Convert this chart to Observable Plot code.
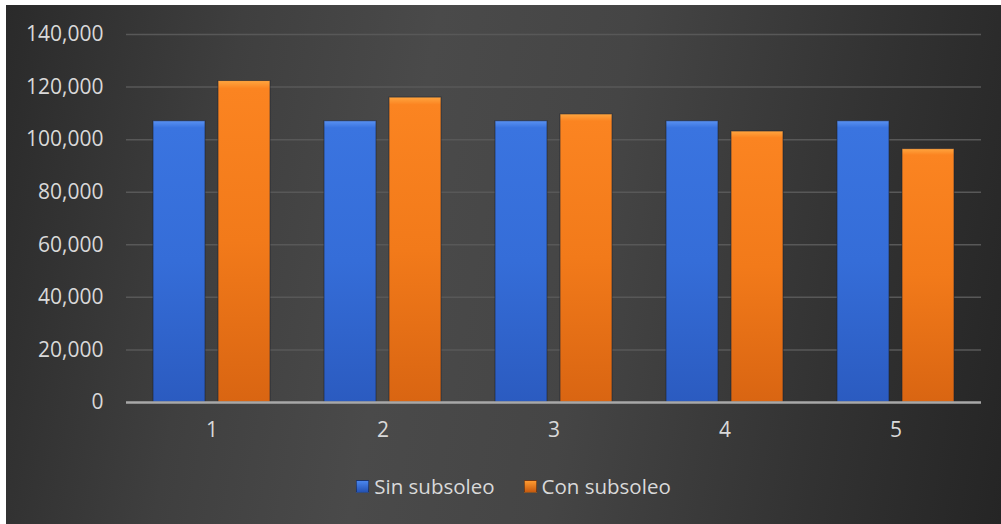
<!DOCTYPE html>
<html>
<head>
<meta charset="utf-8">
<script src="https://cdn.jsdelivr.net/npm/d3@7"></script>
<script src="https://cdn.jsdelivr.net/npm/@observablehq/plot@0.6"></script>
<style>
  html, body { margin: 0; padding: 0; background: #ffffff; }
  body { width: 1001px; height: 524px; position: relative; overflow: hidden; }
  #panel {
    position: absolute; left: 6px; top: 5px; width: 995px; height: 519px;
    background: linear-gradient(100deg, #2a2a2a 0%, #3f3f3f 22%, #4a4a4a 40%, #454545 58%, #323232 82%, #252525 100%);
    font-family: "Open Sans", sans-serif;
  }
  #chart { position: absolute; left: 0; top: 0; }
  #legend {
    position: absolute; top: 467px; left: 20px; width: 975px;
    display: flex; justify-content: center; align-items: center;
    color: #d9d9d9; font-size: 20.5px; font-family: "Open Sans", sans-serif;
  }
  .item { display: flex; align-items: center; margin: 0 14.5px; }
  .sw { width: 13px; height: 13px; margin-right: 5px; box-sizing: border-box; }
</style>
</head>
<body>
<div id="panel">
  <div id="chart"></div>
  <div id="legend"></div>
</div>
<script>
const categories = ["1", "2", "3", "4", "5"];
const seriesNames = ["Sin subsoleo", "Con subsoleo"];
const sinValues = [107000, 107000, 107000, 107000, 107000];
const conValues = [122300, 116000, 109600, 103100, 96400];
const yTicks = [0, 20000, 40000, 60000, 80000, 100000, 120000, 140000];

const rows = [];
categories.forEach((c, i) => {
  rows.push({cat: c, series: seriesNames[0], value: sinValues[i]});
  rows.push({cat: c, series: seriesNames[1], value: conValues[i]});
});

const plot = Plot.plot({
  width: 995,
  height: 450,
  marginTop: 29,
  marginBottom: 53,
  marginLeft: 119,
  marginRight: 20,
  style: {background: "transparent", color: "#d9d9d9", fontSize: "21px", fontFamily: "'Open Sans', sans-serif"},
  fx: {domain: categories, padding: 0, axis: "bottom", tickSize: 0, tickPadding: 20, label: null},
  x: {domain: seriesNames, axis: null, paddingInner: 0.197, paddingOuter: 0.394},
  y: {domain: [0, 140000], ticks: yTicks, tickFormat: d3.format(","), tickSize: 0, tickPadding: 23, label: null},
  color: {domain: seriesNames, range: ["url(#gBlue)", "url(#gOrange)"]},
  marks: [
    Plot.gridY(yTicks.filter(t => t > 0), {stroke: "#585858", strokeOpacity: 1, strokeWidth: 1.5}),
    Plot.barY(rows, {fx: "cat", x: "series", y: "value", fill: "series", stroke: "#1c2230", strokeOpacity: 0.6, strokeWidth: 1}),
    Plot.ruleY([0], {stroke: "#a8a8a8", strokeWidth: 2.5})
  ]
});

const svg = d3.select(plot);
const defs = svg.insert("defs", ":first-child");
function grad(id, stops) {
  const g = defs.append("linearGradient").attr("id", id)
    .attr("x1", 0).attr("y1", 0).attr("x2", 0).attr("y2", 1);
  stops.forEach(([o, c]) => g.append("stop").attr("offset", o).attr("stop-color", c));
}
grad("gBlue", [[0, "#5a92f2"], [0.025, "#3a74e0"], [0.5, "#356dd8"], [1, "#2b5bc0"]]);
grad("gOrange", [[0, "#ffa640"], [0.025, "#fb8421"], [0.5, "#f27a1a"], [1, "#d96512"]]);

document.getElementById("chart").appendChild(plot);

const legend = document.getElementById("legend");
const swGrad = [["#4a86ee", "#2452b4"], ["#ff9a30", "#c85a0e"]];
seriesNames.forEach((s, i) => {
  const item = document.createElement("div");
  item.className = "item";
  const sw = document.createElement("div");
  sw.className = "sw";
  sw.style.background = `linear-gradient(180deg, ${swGrad[i][0]}, ${swGrad[i][1]})`;
  sw.style.border = "1px solid rgba(20,20,30,0.5)";
  const t = document.createElement("span");
  t.textContent = s;
  item.appendChild(sw);
  item.appendChild(t);
  legend.appendChild(item);
});
</script>
</body>
</html>
